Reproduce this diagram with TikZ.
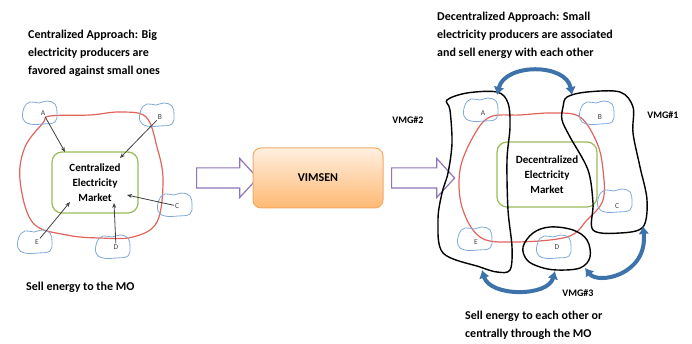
\documentclass[tikz,border=0pt]{standalone}
\usepackage{fontspec}
\setmainfont{Carlito}
\usetikzlibrary{arrows.meta,shapes.arrows}

\definecolor{blobred}{HTML}{E0645C}
\definecolor{mktgreen}{HTML}{9BBB59}
\definecolor{cloudblue}{HTML}{80A9DA}
\definecolor{vmgblue}{HTML}{3E72AA}
\definecolor{fatpurple}{HTML}{8F74B9}
\definecolor{vimsenline}{HTML}{F5A965}

\begin{document}
\begin{tikzpicture}[x=1pt,y=-1pt,
        caption/.style={
            font=\bfseries\fontsize{12}{18}\selectfont, align=left, anchor=north west, inner sep=0
        },
        market/.style={
            rectangle, rounded corners=10pt, draw=mktgreen, line width=1.2pt, align=center,
            font=\bfseries\fontsize{11}{15}\selectfont
        },
        producer/.style={
            font=\fontsize{7.5}{8}\selectfont, text=black!75, inner sep=1pt
        },
        cloud/.pic={
            \draw[cloudblue, line width=0.8pt] plot[smooth cycle, tension=0.7] coordinates
                {(-16,-5) (-10,-11) (-1,-10) (7,-12) (15,-9) (17,0) (15,9) (3,11) (-10,11) (-17,6)};
        },
        feed/.style={draw=black!75, line width=0.8pt, -{Stealth[length=5pt,width=4pt]}},
        fatarrow/.style={
            single arrow, draw=fatpurple, line width=1.2pt, fill=white, inner sep=0,
            text height=19pt, text depth=0pt, minimum height=61pt,
            single arrow head extend=9.5pt, single arrow tip angle=95
        },
        vmglabel/.style={font=\bfseries\fontsize{10}{12}\selectfont, inner sep=0},
        vmgline/.style={draw=black, line width=1.4pt},
        swap/.style={
            draw=vmgblue, line width=4pt,
            {Latex[length=8pt,width=11pt]}-{Latex[length=8pt,width=11pt]}
        },
    ]
        \useasboundingbox (0,0) rectangle (692,344);

        % centralized side
        \node (centralTitle) [caption] at (28,30) {Centralized Approach: Big\\electricity producers are\\favored against small ones};
        \draw[blobred, line width=1.2pt] plot[smooth cycle, tension=0.6] coordinates
            {(50,116) (90,115) (120,112) (146,117) (157,147) (163,180) (157,222) (133,237)
             (100,238) (67,235) (33,223) (20,180) (25,147) (43,123)};
        \node (centralMarket) [market, minimum width=86pt, minimum height=61pt] at (95,182.5) {Centralized\\Electricity\\Market};
        \pic at (40,113) {cloud};
        \pic at (157,115) {cloud};
        \pic at (175,205) {cloud};
        \pic at (113,247) {cloud};
        \pic at (35,242) {cloud};
        \node (lA) [producer] at (43,113) {A};
        \node (lB) [producer] at (160,117) {B};
        \node (lC) [producer] at (177,206) {C};
        \node (lD) [producer] at (116,247) {D};
        \node (lE) [producer] at (37,242) {E};
        \coordinate (inA) at (65,152);
        \coordinate (inB) at (120,158);
        \coordinate (inC) at (127,195);
        \coordinate (inD) at (114,203);
        \coordinate (inE) at (70,202);
        \draw[feed] (lA) -- (inA);
        \draw[feed] (lB) -- (inB);
        \draw[feed] (lC) -- (inC);
        \draw[feed] (lD) -- (inD);
        \draw[feed] (lE) -- (inE);
        \node (centralNote) [caption, anchor=west] at (26,287) {Sell energy to the MO};

        % VIMSEN in the middle
        \node (toVimsen) [fatarrow] at (222.5,178) {};
        \node (vimsen) [rectangle, rounded corners=8pt, draw=vimsenline, line width=1pt,
            top color=orange!12, bottom color=orange!55, minimum width=130pt, minimum height=60pt,
            font=\bfseries\fontsize{12}{14}\selectfont] at (318,178) {VIMSEN};
        \node (fromVimsen) [fatarrow, minimum height=63pt] at (418.5,178) {};

        % decentralized side
        \node (decentralTitle) [caption] at (437,12) {Decentralized Approach: Small\\electricity producers are associated\\and sell energy with each other};
        \draw[blobred, line width=1.2pt] plot[smooth cycle, tension=0.6] coordinates
            {(490,117) (520,115) (553,113) (580,117) (597,143) (603,170) (603,200) (587,220)
             (567,237) (513,242) (480,237) (462,207) (460,170) (473,137)};
        \node (decentralMarket) [market, minimum width=100pt, minimum height=65pt] at (547,174.5) {Decentralized\\Electricity\\Market};
        \pic at (481,110) {cloud};
        \pic at (597,113) {cloud};
        \pic at (615,201) {cloud};
        \pic at (554,247) {cloud};
        \pic at (475,239) {cloud};
        \node (rA) [producer] at (483,113) {A};
        \node (rB) [producer] at (600,117) {B};
        \node (rC) [producer] at (617,206) {C};
        \node (rD) [producer] at (557,247) {D};
        \node (rE) [producer] at (476,242) {E};

        % virtual microgrids
        \draw[vmgline] plot[smooth cycle, tension=0.55] coordinates
            {(447,100) (467,93) (497,92) (508,103) (510,127) (507,160) (508,210) (512,247)
             (510,270) (497,272) (480,267) (443,253) (438,220) (442,193) (448,173) (452,143) (450,110)};
        \draw[vmgline] plot[smooth cycle, tension=0.55] coordinates
            {(563,107) (567,97) (587,92) (620,92) (633,107) (633,133) (640,167) (647,200)
             (643,227) (620,233) (593,230) (593,203) (588,170) (570,137) (562,120)};
        \draw[vmgline] plot[smooth cycle, tension=0.6] coordinates
            {(523,247) (533,233) (550,227) (573,230) (587,240) (590,257) (580,268) (557,270)
             (540,267) (527,260)};
        \node (vmg2) [vmglabel] at (408,120) {VMG\#2};
        \node (vmg1) [vmglabel] at (663,115) {VMG\#1};
        \node (vmg3) [vmglabel] at (578,293) {VMG\#3};
        \coordinate (vmg2top) at (497,95);
        \coordinate (vmg1top) at (572,95);
        \coordinate (vmg1bottom) at (643,226);
        \coordinate (vmg3right) at (585,268);
        \coordinate (vmg3bottom) at (555,271);
        \coordinate (vmg2bottom) at (482,270);
        \draw[swap] (vmg2top) .. controls (505,63) and (566,63) .. (vmg1top);
        \draw[swap] (vmg3right) .. controls (598,285) and (648,275) .. (vmg1bottom);
        \draw[swap] (vmg2bottom) .. controls (490,297) and (548,297) .. (vmg3bottom);
        \node (decentralNote) [caption] at (465,311) {Sell energy to each other or\\centrally through the MO};

    \end{tikzpicture}
\end{document}
